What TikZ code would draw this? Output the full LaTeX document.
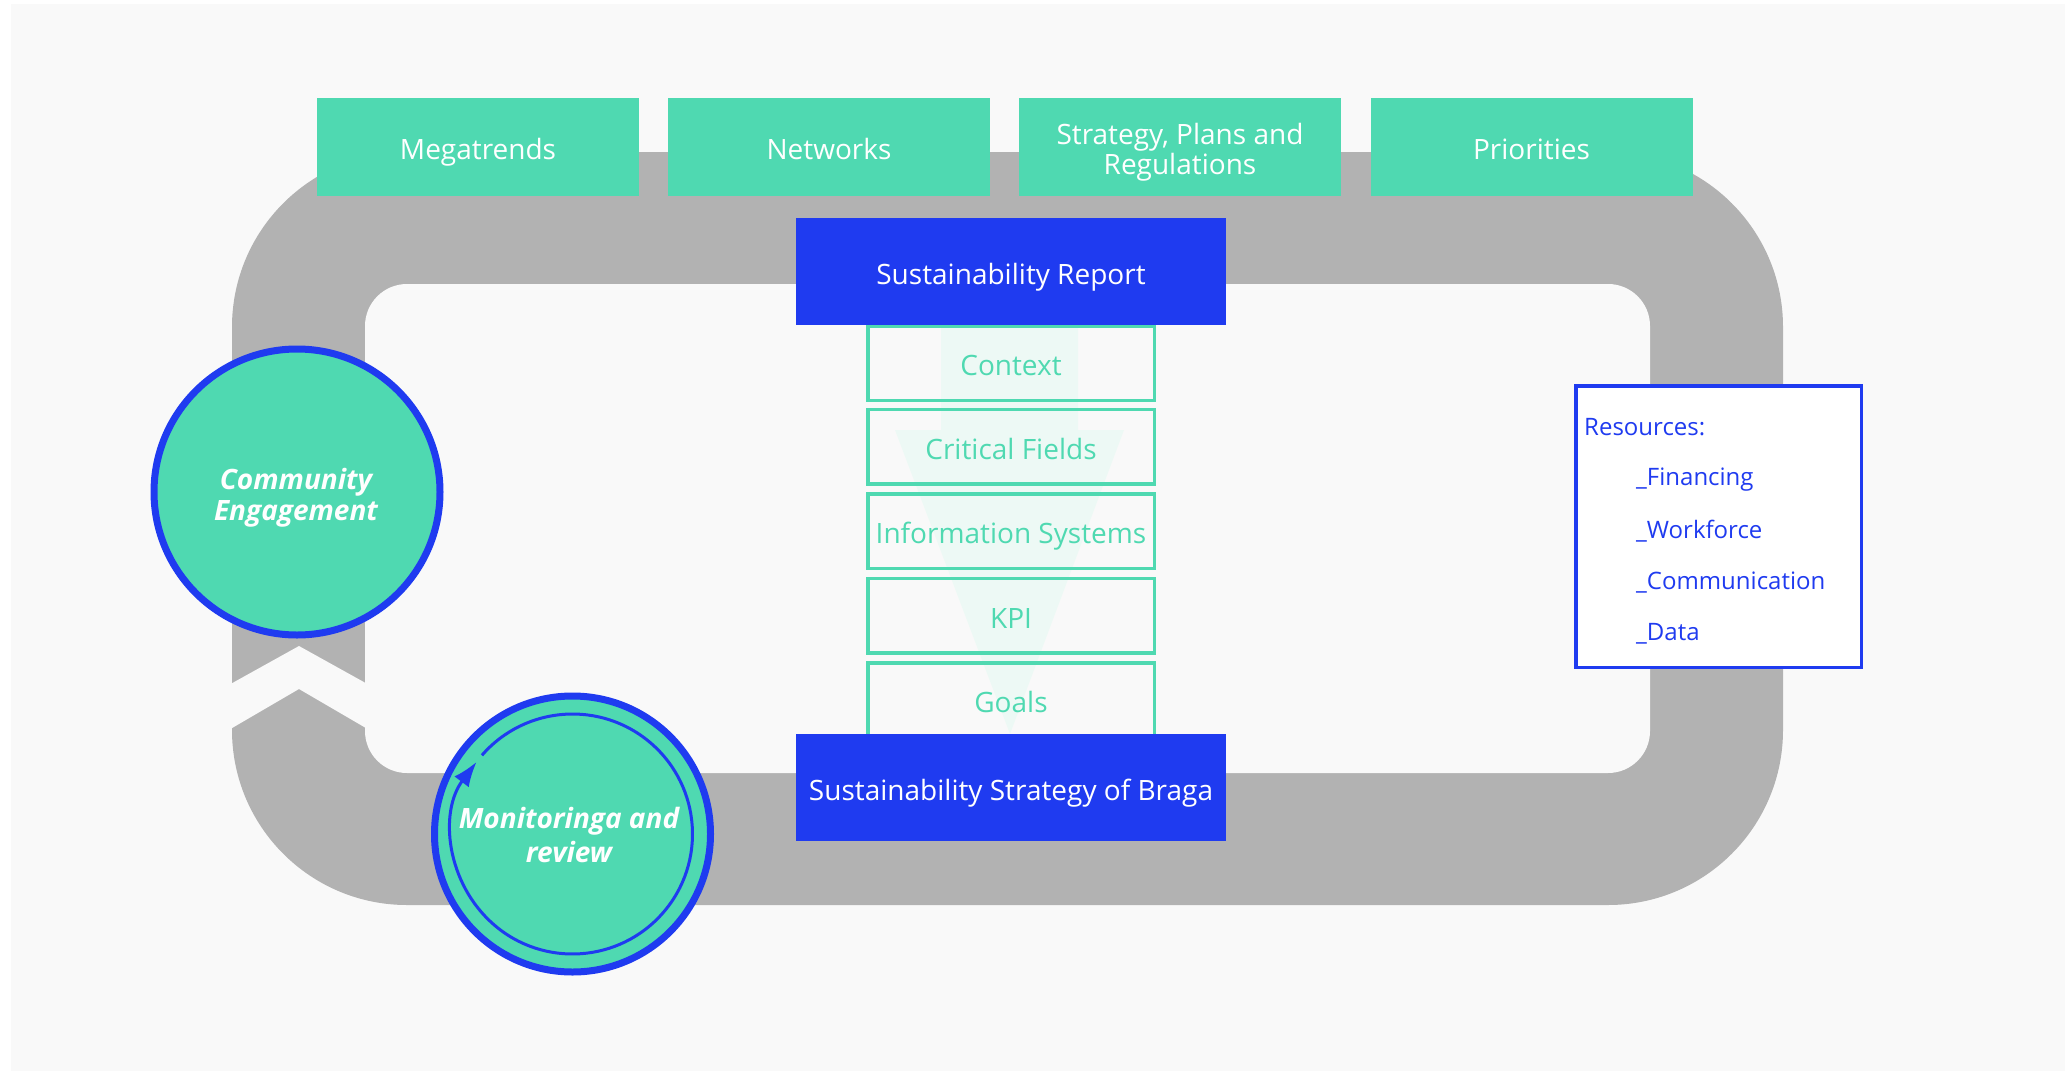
\documentclass[tikz,border=0pt]{standalone}
\usepackage{fontspec}
\setmainfont{Open Sans}
\usetikzlibrary{arrows.meta}
\definecolor{bgc}{HTML}{F9F9F9}
\definecolor{loopg}{HTML}{B2B2B2}
\definecolor{mint}{HTML}{4FD9B1}
\definecolor{royal}{HTML}{1F3BF0}
\definecolor{faint}{HTML}{EDF9F5}
\begin{document}
\begin{tikzpicture}[x=1pt,y=-1pt,
  capcenter/.style={text height=25pt, text depth=0pt},
  topbox/.style={fill=mint, text=white, font=\fontsize{28}{30}\selectfont, align=center, inner sep=0pt, minimum width=322pt, minimum height=98pt},
  bluebox/.style={fill=royal, text=white, font=\fontsize{28}{30}\selectfont, inner sep=0pt, minimum width=430pt, minimum height=107pt, capcenter},
  stackbox/.style={draw=mint, line width=3.5pt, text=mint, font=\fontsize{28}{30}\selectfont, inner sep=0pt, minimum width=286.5pt, minimum height=74.5pt, capcenter},
  bigcircle/.style={circle, draw=royal, fill=mint, line width=7pt, inner sep=0pt},
  circtext/.style={text=white, align=center, inner sep=0pt},
  restext/.style={text=royal, anchor=west, inner sep=0pt, font=\fontsize{24}{26}\selectfont}
]
% canvas
\useasboundingbox (0,0) rectangle (2065,1071);
\fill[white] (0,0) rectangle (2065,1071);
\fill[bgc] (11,4) rectangle (2065,1071);
% grey loop
\fill[loopg, rounded corners=175pt] (232,152) rectangle (1783,905);
\fill[bgc, rounded corners=42pt] (365,284) rectangle (1650,773);
% chevron gap in loop
\fill[bgc] (227,686) -- (299,646) -- (371,686) -- (371,731) -- (299,689) -- (227,731) -- cycle;
% top boxes
\node[topbox, capcenter] (mega) at (478,147) {Megatrends};
\node[topbox, capcenter] (net) at (829,147) {Networks};
\node[topbox] (spr) at (1180,147) {};
\node[text=white, font=\fontsize{28}{30}\selectfont, align=center, inner sep=0pt] (sprtext) at (1180,152.5) {Strategy, Plans and\\Regulations};
\node[topbox, capcenter] (prio) at (1531.5,147) {Priorities};
% faint arrow
\fill[faint] (941,325) -- (1078,325) -- (1078,430) -- (1124,430) -- (1010,734) -- (895,430) -- (941,430) -- cycle;
% stack
\node[stackbox] (ctx) at (1011,363) {Context};
\node[stackbox] (crit) at (1011,446.5) {Critical Fields};
\node[stackbox] (info) at (1011,531) {Information Systems};
\node[stackbox] (kpi) at (1011,615.5) {KPI};
\node[stackbox] (goals) at (1011,700) {Goals};
% blue boxes
\node[bluebox] (report) at (1011,271.5) {Sustainability Report};
\node[bluebox] (braga) at (1011,787.5) {Sustainability Strategy of Braga};
% circles
\node[bigcircle, minimum size=286pt] (comm) at (297,492) {};
\node[circtext, font=\fontsize{28}{31}\selectfont\bfseries\itshape] (commtext) at (296,497.5) {Community\\Engagement};
\node[bigcircle, minimum size=276pt] (mon) at (572.5,834) {};
\node[circtext, font=\fontsize{28}{34}\selectfont\bfseries\itshape] (montext) at (569,834.5) {Monitoringa and\\review};
\draw[royal, line width=3pt, -{Latex[length=25pt,width=18pt]}] ([shift={(-139:120)}]mon.center) arc[start angle=-139, end angle=217, radius=120];
% resources
\node[draw=royal, fill=white, line width=3.5pt, minimum width=285.5pt, minimum height=281.5pt, inner sep=0pt] (res) at (1718.5,526.5) {};
\node[restext] (r0) at (1584,427) {Resources:};
\node[restext] (r1) at (1636,480) {\_Financing};
\node[restext] (r2) at (1636,531) {\_Workforce};
\node[restext] (r3) at (1636,583) {\_Communication};
\node[restext] (r4) at (1636,634) {\_Data};
\end{tikzpicture}
\end{document}
